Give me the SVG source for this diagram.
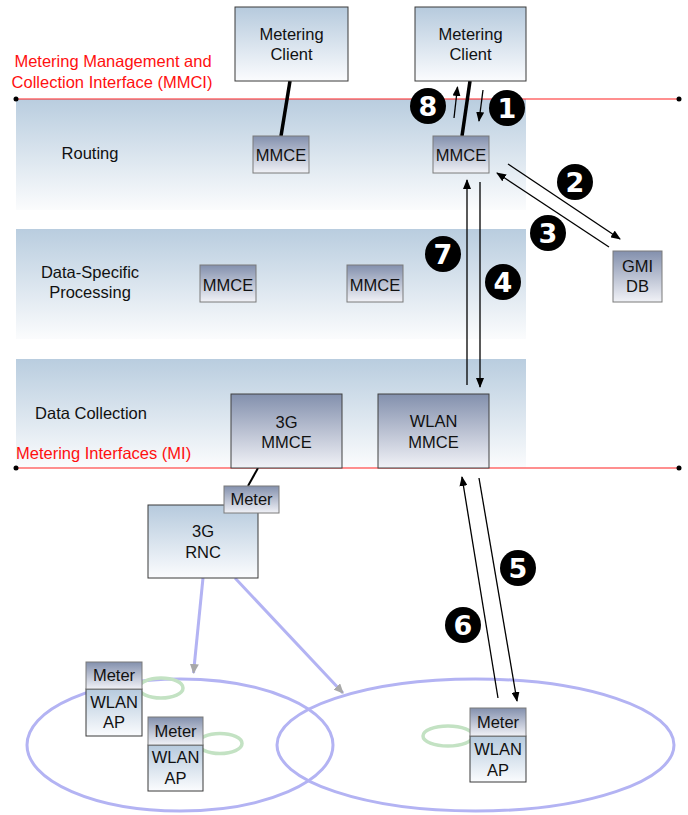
<svg xmlns="http://www.w3.org/2000/svg" width="688" height="815" viewBox="0 0 688 815">
  <defs>
    <linearGradient id="band" x1="0" y1="0" x2="0" y2="1">
      <stop offset="0" stop-color="#b9cddf"/>
      <stop offset="1" stop-color="#fbfcfd"/>
    </linearGradient>
    <linearGradient id="light" x1="0" y1="0" x2="0" y2="1">
      <stop offset="0" stop-color="#b6cadd"/>
      <stop offset="1" stop-color="#fbfcfe"/>
    </linearGradient>
    <linearGradient id="dark" x1="0" y1="0" x2="0" y2="1">
      <stop offset="0" stop-color="#8390ad"/>
      <stop offset="1" stop-color="#f1f2f7"/>
    </linearGradient>
    <marker id="ah" markerWidth="10" markerHeight="8" refX="9" refY="4" orient="auto" markerUnits="userSpaceOnUse">
      <path d="M0,0 L10,4 L0,8 Z" fill="#000"/>
    </marker>
    <marker id="gh" markerWidth="10" markerHeight="9" refX="9" refY="4.5" orient="auto" markerUnits="userSpaceOnUse">
      <path d="M0,0 L10,4.5 L0,9 Z" fill="#a8a8a8"/>
    </marker>
    <style>
      text { font-family: "Liberation Sans", Arial, sans-serif; font-size: 16.5px; fill: #111; }
      .c { text-anchor: middle; }
      .red { fill: #ff1010; }
      .lite { fill: url(#light); stroke: #3a3a3a; stroke-width: 1; }
      .drk { fill: url(#dark); stroke: #404040; stroke-width: 1; }
      .sm { fill: url(#dark); stroke: #7a7a7a; stroke-width: 1; }
      .flow { stroke: #000; stroke-width: 1.3; fill: none; marker-end: url(#ah); }
      .cell { fill: none; stroke: #b3b3f3; stroke-width: 3; }
      .radio { stroke: #b3b3f3; stroke-width: 3; fill: none; marker-end: url(#gh); }
      .loop { fill: none; stroke: #c3e2c3; stroke-width: 3.5; }
      .badge circle { fill: #000; }
      .badge text { font-family: "DejaVu Sans", sans-serif; font-size: 27px; font-weight: bold; fill: #fff; text-anchor: middle; }
    </style>
  </defs>

  <!-- functional layers -->
  <g id="layers">
    <rect x="16" y="99" width="510" height="111" fill="url(#band)"/>
    <rect x="16" y="229" width="510" height="110" fill="url(#band)"/>
    <rect x="16" y="359" width="510" height="109" fill="url(#band)"/>
    <text x="90" y="159" class="c">Routing</text>
    <text x="90" y="278" class="c">Data-Specific</text>
    <text x="90" y="298" class="c">Processing</text>
    <text x="91" y="419" class="c">Data Collection</text>
  </g>

  <!-- interface boundaries -->
  <g id="interfaces">
    <line x1="16" y1="99" x2="679" y2="99" stroke="#ff2020" stroke-width="1.2"/>
    <circle cx="16" cy="99" r="2.5" fill="#000"/>
    <circle cx="679" cy="99" r="2.5" fill="#000"/>
    <text x="113" y="67" class="c red">Metering Management and</text>
    <text x="112" y="88" class="c red">Collection Interface (MMCI)</text>
    <line x1="16" y1="468" x2="679" y2="468" stroke="#ff2020" stroke-width="1.2"/>
    <circle cx="16" cy="468" r="2.5" fill="#000"/>
    <circle cx="679" cy="468" r="2.5" fill="#000"/>
    <text x="16" y="459" class="red">Metering Interfaces (MI)</text>
  </g>

  <!-- radio coverage -->
  <g id="cells">
    <ellipse cx="180" cy="745" rx="153" ry="66" class="cell"/>
    <ellipse cx="475.5" cy="745" rx="198.5" ry="66" class="cell"/>
  </g>

  <!-- connectors -->
  <g id="connectors">
    <line x1="290" y1="81" x2="281" y2="136" stroke="#000" stroke-width="3.5"/>
    <line x1="470" y1="81" x2="462" y2="136" stroke="#000" stroke-width="3.5"/>
    <line x1="258" y1="468" x2="248" y2="486" stroke="#000" stroke-width="2"/>
    <line x1="203" y1="578" x2="193.5" y2="673" class="radio"/>
    <line x1="235" y1="578" x2="343" y2="693" class="radio"/>
    <line x1="454" y1="118" x2="457.5" y2="87" class="flow"/>
    <line x1="483" y1="90" x2="479" y2="121" class="flow"/>
    <line x1="508" y1="164" x2="620" y2="239" class="flow"/>
    <line x1="609" y1="247" x2="497" y2="173" class="flow"/>
    <line x1="467" y1="385" x2="467" y2="180" class="flow"/>
    <line x1="480" y1="182" x2="480" y2="387" class="flow"/>
    <line x1="498" y1="698" x2="462" y2="477" class="flow"/>
    <line x1="479" y1="478" x2="517" y2="701" class="flow"/>
  </g>

  <!-- step numbers -->
  <g id="steps" class="badge">
    <circle cx="507" cy="108" r="18"/><text x="507" y="118">1</text>
    <circle cx="575" cy="182" r="18"/><text x="575" y="192">2</text>
    <circle cx="548" cy="233" r="18"/><text x="548" y="243">3</text>
    <circle cx="503" cy="282" r="18"/><text x="503" y="292">4</text>
    <circle cx="518" cy="568" r="18"/><text x="518" y="578">5</text>
    <circle cx="463" cy="625" r="18"/><text x="463" y="635">6</text>
    <circle cx="443" cy="254" r="18"/><text x="443" y="264">7</text>
    <circle cx="428" cy="106" r="18"/><text x="428" y="116">8</text>
  </g>

  <g id="client1">
    <rect x="235" y="7" width="113" height="74" class="lite"/>
    <text x="291.5" y="40" class="c">Metering</text>
    <text x="291.5" y="60" class="c">Client</text>
  </g>
  <g id="client2">
    <rect x="415" y="7" width="111" height="74" class="lite"/>
    <text x="470.5" y="40" class="c">Metering</text>
    <text x="470.5" y="60" class="c">Client</text>
  </g>

  <g id="mmce-route1">
    <rect x="253" y="136" width="56" height="37" class="sm"/>
    <text x="281" y="161" class="c">MMCE</text>
  </g>
  <g id="mmce-route2">
    <rect x="433" y="136" width="56" height="37" class="sm"/>
    <text x="461" y="161" class="c">MMCE</text>
  </g>
  <g id="mmce-proc1">
    <rect x="200" y="265" width="56" height="37" class="sm"/>
    <text x="228" y="291" class="c">MMCE</text>
  </g>
  <g id="mmce-proc2">
    <rect x="347" y="265" width="56" height="37" class="sm"/>
    <text x="375" y="291" class="c">MMCE</text>
  </g>

  <g id="gmi-db">
    <rect x="613" y="251" width="49" height="51" class="sm"/>
    <text x="637.5" y="272" class="c">GMI</text>
    <text x="637.5" y="292" class="c">DB</text>
  </g>

  <g id="mmce-3g">
    <rect x="231" y="394" width="111" height="74" class="drk"/>
    <text x="286.5" y="428" class="c">3G</text>
    <text x="286.5" y="448" class="c">MMCE</text>
  </g>
  <g id="mmce-wlan">
    <rect x="378" y="394" width="111" height="74" class="drk"/>
    <text x="433.5" y="427" class="c">WLAN</text>
    <text x="433.5" y="448" class="c">MMCE</text>
  </g>

  <g id="rnc-3g">
    <rect x="148" y="505" width="110" height="73" class="lite"/>
    <text x="203" y="537" class="c">3G</text>
    <text x="203" y="558" class="c">RNC</text>
  </g>
  <g id="meter-3g">
    <rect x="224" y="486" width="55" height="27" class="sm"/>
    <text x="251.5" y="505" class="c">Meter</text>
  </g>

  <g id="ap1">
    <ellipse cx="161" cy="688" rx="22" ry="10" class="loop"/>
    <rect x="86" y="689" width="56" height="47" class="lite" stroke="#7a7a7a"/>
    <rect x="86" y="662" width="56" height="27" class="sm"/>
    <text x="114" y="681" class="c">Meter</text>
    <text x="114" y="708" class="c">WLAN</text>
    <text x="114" y="728" class="c">AP</text>
  </g>
  <g id="ap2">
    <ellipse cx="220" cy="743.5" rx="22" ry="10" class="loop"/>
    <rect x="148" y="745" width="55" height="46" class="lite" stroke="#7a7a7a"/>
    <rect x="148" y="717" width="55" height="28" class="sm"/>
    <text x="175.5" y="737" class="c">Meter</text>
    <text x="175.5" y="763" class="c">WLAN</text>
    <text x="175.5" y="784" class="c">AP</text>
  </g>
  <g id="ap3">
    <ellipse cx="448" cy="736" rx="25" ry="10" class="loop"/>
    <rect x="470" y="736" width="56" height="46" class="lite" stroke="#7a7a7a"/>
    <rect x="470" y="708" width="56" height="28" class="sm"/>
    <text x="498" y="728" class="c">Meter</text>
    <text x="498" y="755" class="c">WLAN</text>
    <text x="498" y="776" class="c">AP</text>
  </g>
</svg>
